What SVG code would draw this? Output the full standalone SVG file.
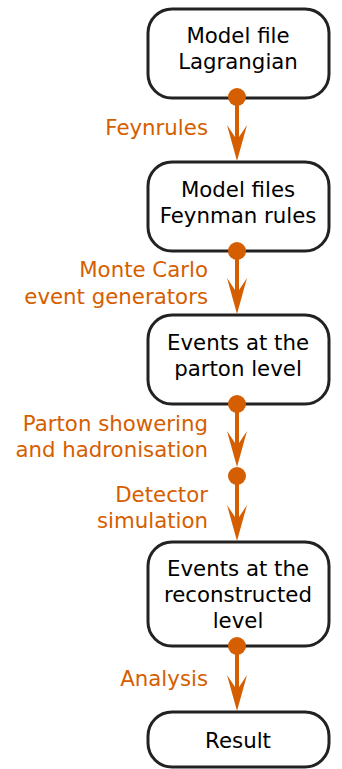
<svg xmlns="http://www.w3.org/2000/svg" width="342" height="769" viewBox="0 0 342 769">
<style>
.box{fill:#fff;stroke:#222;stroke-width:3}
.t{font-family:"DejaVu Sans",sans-serif;font-size:21.3px;fill:#000;text-anchor:middle}
.l{font-family:"DejaVu Sans",sans-serif;font-size:21.3px;fill:#d55e00;text-anchor:end}
.c{stroke:#d55e00;stroke-width:4;fill:none}
.d{fill:#d55e00}
</style>
<defs>
<marker id="ah" markerUnits="userSpaceOnUse" markerWidth="40" markerHeight="24" viewBox="-16 -12 40 24" refX="0" refY="0" orient="auto" overflow="visible">
<path d="M21,0 L-15,-10 L0,0 L-15,10 Z" fill="#d55e00"/>
</marker>
</defs>
<g id="n1"><rect class="box" x="148" y="9" width="181" height="89" rx="24"/><text class="t" x="238" y="43">Model file</text><text class="t" x="238" y="69">Lagrangian</text></g>
<g id="n2"><rect class="box" x="148" y="162" width="181" height="89" rx="24"/><text class="t" x="238" y="197">Model files</text><text class="t" x="238" y="223">Feynman rules</text></g>
<g id="n3"><rect class="box" x="148" y="315" width="181" height="89" rx="24"/><text class="t" x="238" y="350">Events at the</text><text class="t" x="238" y="376">parton level</text></g>
<g id="n4"><rect class="box" x="148" y="542" width="181" height="104" rx="24"/><text class="t" x="238" y="576">Events at the</text><text class="t" x="238" y="602">reconstructed</text><text class="t" x="238" y="628">level</text></g>
<g id="n5"><rect class="box" x="148" y="712" width="181" height="55" rx="24"/><text class="t" x="238" y="748">Result</text></g>
<g id="connectors">
<line class="c" x1="237" y1="97" x2="237" y2="140" marker-end="url(#ah)"/>
<circle class="d" cx="237" cy="97" r="9"/>
<line class="c" x1="237" y1="251" x2="237" y2="293" marker-end="url(#ah)"/>
<circle class="d" cx="237" cy="251" r="9"/>
<line class="c" x1="237" y1="404" x2="237" y2="446" marker-end="url(#ah)"/>
<circle class="d" cx="237" cy="404" r="9"/>
<line class="c" x1="237" y1="476" x2="237" y2="520" marker-end="url(#ah)"/>
<circle class="d" cx="237" cy="476" r="9"/>
<line class="c" x1="237" y1="646" x2="237" y2="690" marker-end="url(#ah)"/>
<circle class="d" cx="237" cy="646" r="9"/>
<text class="l" x="208" y="135">Feynrules</text>
<text class="l" x="208" y="277">Monte Carlo</text>
<text class="l" x="208" y="304">event generators</text>
<text class="l" x="208" y="431">Parton showering</text>
<text class="l" x="208" y="457">and hadronisation</text>
<text class="l" x="208" y="502">Detector</text>
<text class="l" x="208" y="528">simulation</text>
<text class="l" x="208" y="686">Analysis</text>
</g>
</svg>
